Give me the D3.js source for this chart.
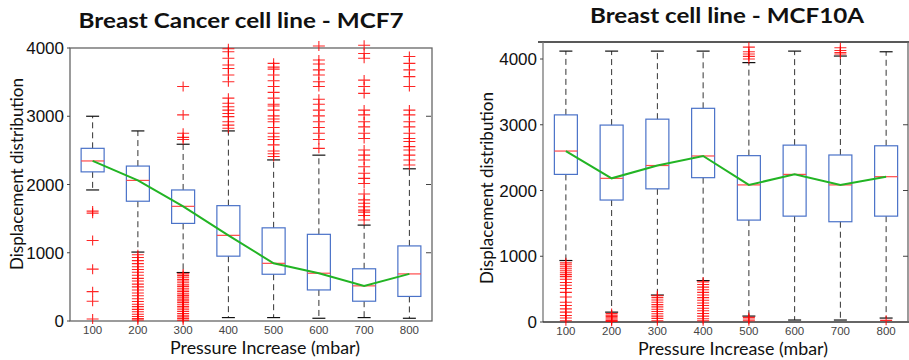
<!DOCTYPE html>
<html>
<head>
<meta charset="utf-8">
<script src="https://cdn.jsdelivr.net/npm/d3@7"></script>
<style>
  body { margin: 0; background: #fff; }
  text { font-family: Lato, "Open Sans", sans-serif; }
  .tick-y { font-family: "Liberation Sans", Arial, sans-serif; font-size: 17px; fill: #111; }
  .tick-x { font-family: "Liberation Sans", Arial, sans-serif; font-size: 11.5px; fill: #444; }
</style>
</head>
<body>
<div id="chart"></div>
<script>
// ---- data ----
var categories = ["100", "200", "300", "400", "500", "600", "700", "800"];
var yTicks = [0, 1000, 2000, 3000, 4000];

// MCF7
var mcf7Low    = [1920, 1010, 710, 50, 50, 40, 50, 40];
var mcf7Q1     = [2185, 1755, 1430, 950, 685, 455, 290, 360];
var mcf7Median = [2345, 2060, 1680, 1255, 845, 700, 515, 690];
var mcf7Q3     = [2530, 2270, 1920, 1690, 1365, 1270, 765, 1100];
var mcf7High   = [3000, 2785, 2590, 2785, 2360, 2430, 1405, 2230];
var mcf7Outliers = [
  [1610, 1580, 1180, 760, 430, 290, 30],
  [970, 930, 885, 840, 795, 755, 715, 670, 625, 585, 540, 500, 455, 410, 370, 325, 285, 245, 210, 170, 135, 100, 65, 35, 15],
  [3435, 3020, 2750, 2690, 2660, 690, 665, 640, 610, 585, 560, 530, 505, 480, 455, 430, 400, 375, 350, 320, 295, 270, 245, 215, 190, 165, 140, 110, 85, 60, 35, 10],
  [3990, 3945, 3850, 3750, 3700, 3605, 3505, 3265, 3190, 3140, 3090, 3040, 2995, 2920, 2870, 2825],
  [3775, 3720, 3690, 3605, 3520, 3435, 3350, 3265, 3175, 3150, 3090, 3005, 2960, 2920, 2835, 2750, 2700, 2660, 2580, 2490, 2450, 2410],
  [4030, 3825, 3765, 3680, 3605, 3505, 3435, 3250, 3175, 3090, 3005, 2920, 2835, 2750, 2660, 2530],
  [4040, 3920, 3850, 3530, 3435, 3335, 3090, 3020, 2920, 2845, 2750, 2675, 2505, 2430, 2360, 2260, 2165, 2090, 2015, 1860, 1775, 1725, 1675, 1625, 1595, 1545, 1480],
  [3875, 3775, 3680, 3580, 3435, 3090, 3020, 2920, 2845, 2750, 2675, 2630, 2555, 2505, 2430, 2360, 2285]
];

// MCF10A
var mcf10aLow    = [935, 150, 410, 630, 90, 30, 30, 60];
var mcf10aQ1     = [2245, 1855, 2025, 2195, 1550, 1610, 1525, 1610];
var mcf10aMedian = [2600, 2185, 2380, 2525, 2085, 2245, 2085, 2210];
var mcf10aQ3     = [3150, 2995, 3085, 3250, 2530, 2690, 2540, 2680];
var mcf10aHigh   = [4120, 4120, 4120, 4120, 3945, 4120, 4045, 4110];
var mcf10aOutliers = [
  [900, 870, 840, 810, 780, 750, 720, 690, 650, 600, 560, 510, 450, 380, 300, 250, 200, 150, 100, 60, 20],
  [130, 105, 85, 65, 45, 25, 10],
  [400, 370, 335, 300, 265, 230, 195, 160, 125, 90, 55, 20],
  [610, 570, 530, 490, 450, 410, 370, 330, 290, 250, 210, 170, 130, 90, 50, 20],
  [4180, 4110, 4075, 4040, 4000, 70, 45, 20],
  [],
  [4170, 4130, 4100, 4075],
  [25]
];

var W = 909, H = 360;

var svg = d3.select("#chart")
    .append("svg")
    .attr("width", W)
    .attr("height", H);

function drawPanel(p) {
    var x = d3.scaleBand().domain(categories).range([p.left, p.right]);
    var y = d3.scaleLinear().domain([0, 4000]).range([p.y0, p.y4000]);
    var g = svg.append("g");
    var boxW = 23, capW = 13;
    var cx = function (i) { return x(categories[i]) + x.bandwidth() / 2; };

    // frame
    if (p.fullFrame) {
        g.append("rect")
            .attr("x", p.left).attr("y", p.top)
            .attr("width", p.right - p.left).attr("height", p.y0 - p.top)
            .attr("fill", "none").attr("stroke", "#666").attr("stroke-width", 1.3);
    } else {
        g.append("line").attr("x1", p.left - 5).attr("x2", p.right).attr("y1", p.top).attr("y2", p.top)
            .attr("stroke", "#222").attr("stroke-width", 1.5);
        g.append("line").attr("x1", p.left).attr("x2", p.left).attr("y1", p.top).attr("y2", p.y0)
            .attr("stroke", "#777").attr("stroke-width", 1.3);
        g.append("line").attr("x1", p.left).attr("x2", p.right).attr("y1", p.y0).attr("y2", p.y0)
            .attr("stroke", "#333").attr("stroke-width", 1.3);
        g.append("line").attr("x1", p.right - 1).attr("x2", p.right - 1).attr("y1", p.top).attr("y2", p.y0)
            .attr("stroke", "#666").attr("stroke-width", 1.3);
    }

    // y ticks + labels
    yTicks.forEach(function (t) {
        g.append("line").attr("x1", p.left - 3).attr("x2", p.left).attr("y1", y(t)).attr("y2", y(t))
            .attr("stroke", "#444");
        if (t > 0 && t < 4000) {
            g.append("line").attr("x1", p.right - 6).attr("x2", p.right - 1).attr("y1", y(t)).attr("y2", y(t))
                .attr("stroke", "#444");
        }
        g.append("text").attr("class", "tick-y")
            .attr("x", p.left - 6).attr("y", y(t) + 6)
            .attr("text-anchor", "end")
            .text(t);
    });

    // x tick labels
    categories.forEach(function (c, i) {
        g.append("text").attr("class", "tick-x")
            .attr("x", cx(i)).attr("y", p.y0 + 13)
            .attr("text-anchor", "middle")
            .text(c);
    });

    var boxes = g.selectAll(".box").data(categories).enter().append("g").attr("class", "box");

    // whiskers
    boxes.append("line")
        .attr("x1", function (d, i) { return cx(i); }).attr("x2", function (d, i) { return cx(i); })
        .attr("y1", function (d, i) { return y(p.q3[i]); }).attr("y2", function (d, i) { return y(p.high[i]); })
        .attr("stroke", "#333").attr("stroke-dasharray", "6,4");
    boxes.append("line")
        .attr("x1", function (d, i) { return cx(i); }).attr("x2", function (d, i) { return cx(i); })
        .attr("y1", function (d, i) { return y(p.q1[i]); }).attr("y2", function (d, i) { return y(p.low[i]); })
        .attr("stroke", "#333").attr("stroke-dasharray", "6,4");
    [p.high, p.low].forEach(function (arr) {
        boxes.append("line")
            .attr("x1", function (d, i) { return cx(i) - capW / 2; }).attr("x2", function (d, i) { return cx(i) + capW / 2; })
            .attr("y1", function (d, i) { return y(arr[i]); }).attr("y2", function (d, i) { return y(arr[i]); })
            .attr("stroke", "#111").attr("stroke-width", 1.2);
    });

    // boxes
    boxes.append("rect")
        .attr("x", function (d, i) { return cx(i) - boxW / 2; })
        .attr("y", function (d, i) { return y(p.q3[i]); })
        .attr("width", boxW)
        .attr("height", function (d, i) { return y(p.q1[i]) - y(p.q3[i]); })
        .attr("fill", "none").attr("stroke", "#4a72c8").attr("stroke-width", 1.2);

    // medians
    boxes.append("line")
        .attr("x1", function (d, i) { return cx(i) - boxW / 2; }).attr("x2", function (d, i) { return cx(i) + boxW / 2; })
        .attr("y1", function (d, i) { return y(p.median[i]); }).attr("y2", function (d, i) { return y(p.median[i]); })
        .attr("stroke", "#ff4a4a").attr("stroke-width", 1.2);

    // outliers
    p.outliers.forEach(function (vals, i) {
        g.selectAll(null).data(vals).enter().append("path")
            .attr("d", function (v) {
                var px = cx(i), py = y(v);
                return "M" + (px - 6) + "," + py + "H" + (px + 6) + "M" + px + "," + (py - 5) + "V" + (py + 5);
            })
            .attr("stroke", "#ff0000").attr("stroke-width", 1.1).attr("stroke-opacity", 0.85)
            .attr("fill", "none");
    });

    // median trend line
    var line = d3.line()
        .x(function (d, i) { return cx(i); })
        .y(function (d) { return y(d); });
    g.append("path")
        .datum(p.median)
        .attr("d", line)
        .attr("fill", "none").attr("stroke", "#22b424").attr("stroke-width", 2);

    // titles
    g.append("text")
        .attr("x", p.titleX).attr("y", p.titleY)
        .attr("text-anchor", "middle")
        .attr("font-weight", "bold").attr("font-size", "21px")
        .attr("textLength", p.titleLen).attr("lengthAdjust", "spacingAndGlyphs")
        .attr("fill", "#111")
        .text(p.title);
    g.append("text")
        .attr("x", p.xLabelX).attr("y", p.y0 + 33)
        .attr("text-anchor", "middle")
        .attr("font-size", "17px")
        .attr("textLength", 190).attr("lengthAdjust", "spacingAndGlyphs")
        .attr("fill", "#111")
        .text("Pressure Increase (mbar)");
    g.append("text")
        .attr("transform", "translate(" + p.yLabelX + "," + p.yLabelY + ") rotate(-90)")
        .attr("text-anchor", "middle")
        .attr("font-size", "17px")
        .attr("textLength", 192).attr("lengthAdjust", "spacingAndGlyphs")
        .attr("fill", "#111")
        .text("Displacement distribution");
}

drawPanel({
    left: 70, right: 432, top: 48, y0: 321, y4000: 48, fullFrame: true,
    low: mcf7Low, q1: mcf7Q1, median: mcf7Median, q3: mcf7Q3, high: mcf7High, outliers: mcf7Outliers,
    title: "Breast Cancer cell line - MCF7", titleX: 241, titleY: 28, titleLen: 325,
    xLabelX: 265, yLabelX: 23, yLabelY: 174
});

drawPanel({
    left: 543, right: 909, top: 42, y0: 322, y4000: 59, fullFrame: false,
    low: mcf10aLow, q1: mcf10aQ1, median: mcf10aMedian, q3: mcf10aQ3, high: mcf10aHigh, outliers: mcf10aOutliers,
    title: "Breast cell line - MCF10A", titleX: 727, titleY: 23, titleLen: 274,
    xLabelX: 733, yLabelX: 493, yLabelY: 188
});
</script>
</body>
</html>
